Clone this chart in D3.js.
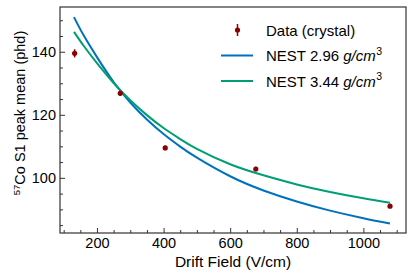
<!DOCTYPE html>
<html lang="en">
<head>
  <meta charset="UTF-8">
  <title>Co-57 S1 peak mean vs drift field</title>
  <script src="https://cdn.jsdelivr.net/npm/d3@7"></script>
  <style>
  body { margin: 0; background: #fff; }
  svg { display: block; font-family: "Liberation Sans", Arial, sans-serif; }
  .tick text { font-size: 14.5px; fill: #000; }
  .axis path, .axis line { stroke: #333; }
  .legend text { font-size: 15px; }
  </style>
</head>
<body>
<div id="chart"></div>
<script>
// measured points (crystal)
const dataField = [133, 270, 405, 677, 1080];
const dataMean = [139.5, 126.8, 109.5, 102.8, 91.0];
const dataErr = [1.3, 0.8, 0.7, 0.7, 0.6];

// NEST curves
const nestField = [131, 160, 200, 250, 300, 350, 400, 450, 500, 600, 700, 800, 900, 1000, 1080];
const nest296 = [151.0, 145.2, 138.3, 130.4, 123.9, 118.5, 113.9, 109.9, 106.4, 100.5, 96.0, 92.5, 89.6, 87.2, 85.5];
const nest344 = [146.3, 141.9, 136.4, 130.1, 124.6, 119.9, 115.8, 112.3, 109.2, 104.3, 100.8, 97.9, 95.5, 93.5, 92.1];

const xTicks = [200, 400, 600, 800, 1000];
const yTicks = [100, 120, 140];

const W = 415, H = 277;
const margin = {top: 7, right: 9, bottom: 44, left: 60};
const iw = W - margin.left - margin.right;
const ih = H - margin.top - margin.bottom;

const svg = d3.select('#chart').append('svg').attr('width', W).attr('height', H);
const g = svg.append('g').attr('transform', `translate(${margin.left},${margin.top})`);

const x = d3.scaleLinear().domain([89, 1128]).range([0, iw]);
const y = d3.scaleLinear().domain([82.5, 154.2]).range([ih, 0]);

// minor ticks
const xMinor = d3.range(100, 1128, 50).filter(v => xTicks.indexOf(v) < 0);
const yMinor = d3.range(85, 154, 5).filter(v => yTicks.indexOf(v) < 0);

g.append('g').attr('class', 'axis')
  .attr('transform', `translate(0,${ih})`)
  .call(d3.axisBottom(x).tickValues(xMinor).tickSize(-3).tickFormat(''))
  .call(a => a.select('.domain').remove());
g.append('g').attr('class', 'axis')
  .call(d3.axisLeft(y).tickValues(yMinor).tickSize(-3).tickFormat(''))
  .call(a => a.select('.domain').remove());

g.append('g').attr('class', 'axis')
  .attr('transform', `translate(0,${ih})`)
  .call(d3.axisBottom(x).tickValues(xTicks).tickSize(-5).tickPadding(5).tickFormat(d3.format('d')))
  .call(a => a.select('.domain').remove());
g.append('g').attr('class', 'axis')
  .call(d3.axisLeft(y).tickValues(yTicks).tickSize(-5).tickPadding(4))
  .call(a => a.select('.domain').remove());

// frame
g.append('rect')
  .attr('width', iw).attr('height', ih)
  .attr('fill', 'none').attr('stroke', '#333').attr('stroke-width', 1.2);

const line = d3.line().x(d => x(d[0])).y(d => y(d[1])).curve(d3.curveNatural);

g.append('path')
  .datum(d3.zip(nestField, nest296))
  .attr('d', line).attr('fill', 'none')
  .attr('stroke', '#0072BD').attr('stroke-width', 2);
g.append('path')
  .datum(d3.zip(nestField, nest344))
  .attr('d', line).attr('fill', 'none')
  .attr('stroke', '#009E73').attr('stroke-width', 2);

// data with error bars
const pts = d3.zip(dataField, dataMean, dataErr);
g.selectAll('.err').data(pts).join('line')
  .attr('x1', d => x(d[0])).attr('x2', d => x(d[0]))
  .attr('y1', d => y(d[1] - d[2])).attr('y2', d => y(d[1] + d[2]))
  .attr('stroke', '#8B0000').attr('stroke-width', 1.5);
g.selectAll('.pt').data(pts).join('circle')
  .attr('cx', d => x(d[0])).attr('cy', d => y(d[1]))
  .attr('r', 2.6).attr('fill', '#8B0000');

// axis labels
svg.append('text')
  .attr('x', margin.left + iw / 2).attr('y', 267)
  .attr('text-anchor', 'middle').attr('font-size', 15.5)
  .text('Drift Field (V/cm)');

const yl = svg.append('text')
  .attr('transform', 'translate(25,113) rotate(-90)')
  .attr('text-anchor', 'middle').attr('font-size', 14.5);
yl.append('tspan').attr('font-size', 9.5).attr('dy', -5.5).text('57');
yl.append('tspan').attr('dy', 5.5).text('Co S1 peak mean (phd)');

// legend
const leg = svg.append('g').attr('class', 'legend');
const legItems = [
  {label: 'Data (crystal)', kind: 'data'},
  {label: 'NEST 2.96 ', unit: true, color: '#0072BD'},
  {label: 'NEST 3.44 ', unit: true, color: '#009E73'}
];
legItems.forEach((it, i) => {
  const cy = 30 + i * 25.5;
  if (it.kind === 'data') {
    leg.append('line').attr('x1', 237.5).attr('x2', 237.5)
      .attr('y1', cy - 6).attr('y2', cy + 6)
      .attr('stroke', '#8B0000').attr('stroke-width', 1.5);
    leg.append('circle').attr('cx', 237.5).attr('cy', cy).attr('r', 2.6).attr('fill', '#8B0000');
  } else {
    leg.append('line').attr('x1', 221).attr('x2', 253)
      .attr('y1', cy).attr('y2', cy)
      .attr('stroke', it.color).attr('stroke-width', 2);
  }
  const t = leg.append('text').attr('x', 266).attr('y', cy + 5.5);
  t.append('tspan').text(it.label);
  if (it.unit) {
    t.append('tspan').attr('font-style', 'italic').text('g/cm');
    t.append('tspan').attr('font-size', 10.5).attr('dx', 0.5).attr('dy', -6.5).text('3');
  }
});
</script>
</body>
</html>
